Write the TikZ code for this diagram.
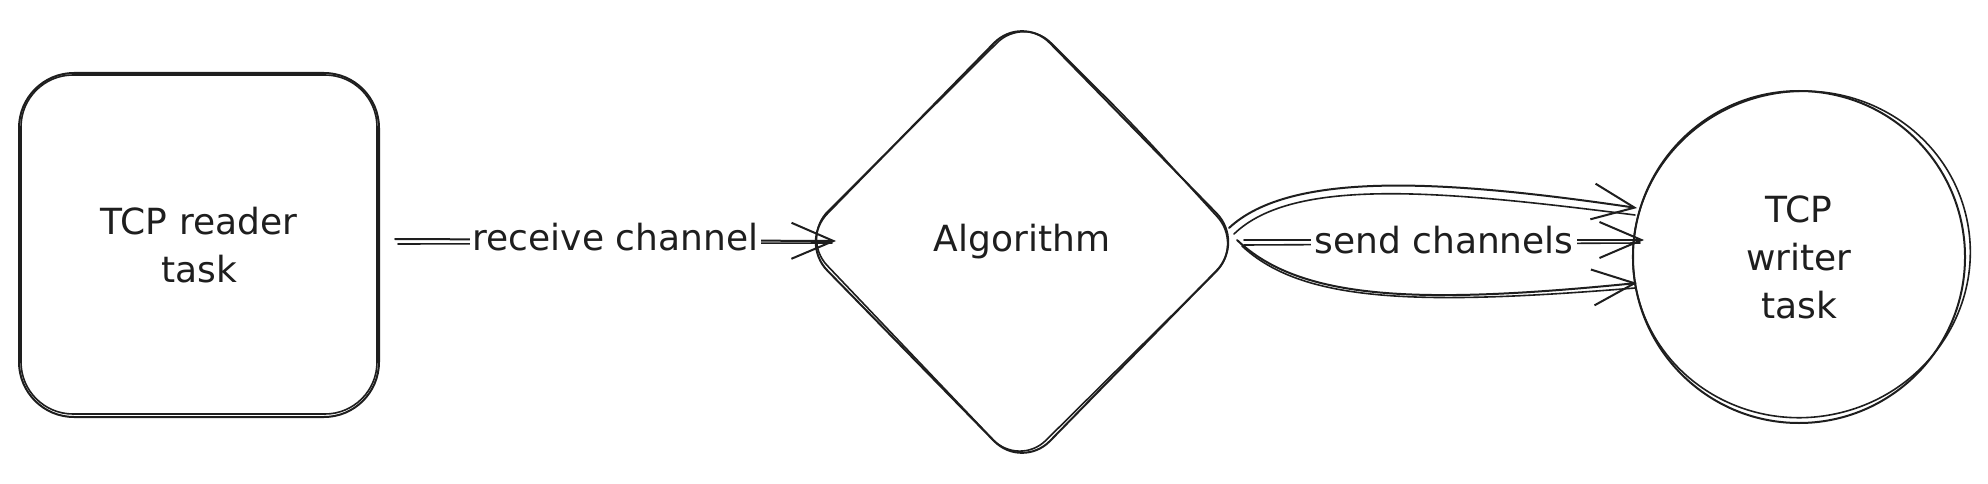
\documentclass[tikz,border=0pt]{standalone}
\usepackage{fontspec}
\setmainfont{DejaVu Sans}
\usetikzlibrary{arrows.meta,shapes.geometric,calc}
\definecolor{ink}{HTML}{1E1E1E}
\begin{document}
\begin{tikzpicture}[x=1pt,y=-1pt,
  line width=2pt, line cap=round, line join=round,
  every path/.style={draw=ink},
  lbl/.style={font=\fontsize{36}{48}\selectfont, text=ink, align=center, inner sep=0pt},
  shapebox/.style={lbl, draw=ink, line width=2pt},
  conn/.style={draw=ink, line width=2pt, -{Straight Barb[length=42pt,width=36pt]}},
  stroke/.style={draw=ink, line width=1.6pt}]
\useasboundingbox[fill=white,draw=none] (0,0) rectangle (1988,484);

% nodes
\node[shapebox, rectangle, rounded corners=55pt, minimum width=360pt, minimum height=344pt] (reader) at (199,245) {TCP reader\\task};
\node[shapebox, diamond, rounded corners=40pt, minimum width=446pt, minimum height=456pt] (algo) at (1022,242) {Algorithm};
\node[shapebox, circle, minimum size=332pt, text depth=0pt] (writer) at (1799,257) {TCP\\writer\\task};

% second (sketchy) strokes of the shapes
\draw[stroke, rounded corners=52pt] ($(reader.south west)+(3,-4)$) rectangle ($(reader.north east)+(-3,3)$);
\draw[stroke, rounded corners=38pt] ($(algo.north)!0.5!(algo.east)+(1,-1)$) -- ($(algo.east)+(-3,3)$) -- ($(algo.south)+(-3,-4)$) -- ($(algo.west)+(3,-4)$) -- ($(algo.north)+(2,3)$) -- cycle;
\draw[stroke, rotate around={12:(writer.center)}] ($(writer.center)+(3,-2)$) ellipse [x radius=169pt, y radius=163pt];

% second strokes of the connectors
\draw[stroke] ($(reader.east)+(18,-1)$) -- ($(algo.west)+(34,1)$);
\draw[stroke] ($(algo.east)+(-2,3)$) -- ($(writer.west)+(8,-14)$);
\draw[stroke] ($(algo.east)+(-12,-8)$) .. controls +(60,-58) and +(-190,-24) .. ($(writer.west)+(3,-42)$);
\draw[stroke] ($(algo.east)+(-4,4)$) .. controls +(60,56) and +(-220,18) .. ($(writer.west)+(3,31)$);

% connectors
\draw[conn] ($(reader.east)+(15,-6)$) -- ($(algo.west)+(38,-1)$)
  node[midway, lbl, fill=white, inner xsep=3pt, inner ysep=2pt, yshift=3pt] (rlabel) {receive channel};
\draw[conn] ($(algo.east)+(-2,-2)$) -- ($(writer.west)+(12,-17)$)
  node[midway, lbl, fill=white, inner xsep=3pt, inner ysep=2pt] (slabel) {send channels};
\draw[conn] ($(algo.east)+(-17,-14)$) .. controls +(62,-58) and +(-190,-28) .. ($(writer.west)+(5,-49)$);
\draw[conn] ($(algo.east)+(-9,-2)$) .. controls +(63,60) and +(-220,22) .. ($(writer.west)+(5,26)$);
\end{tikzpicture}
\end{document}
